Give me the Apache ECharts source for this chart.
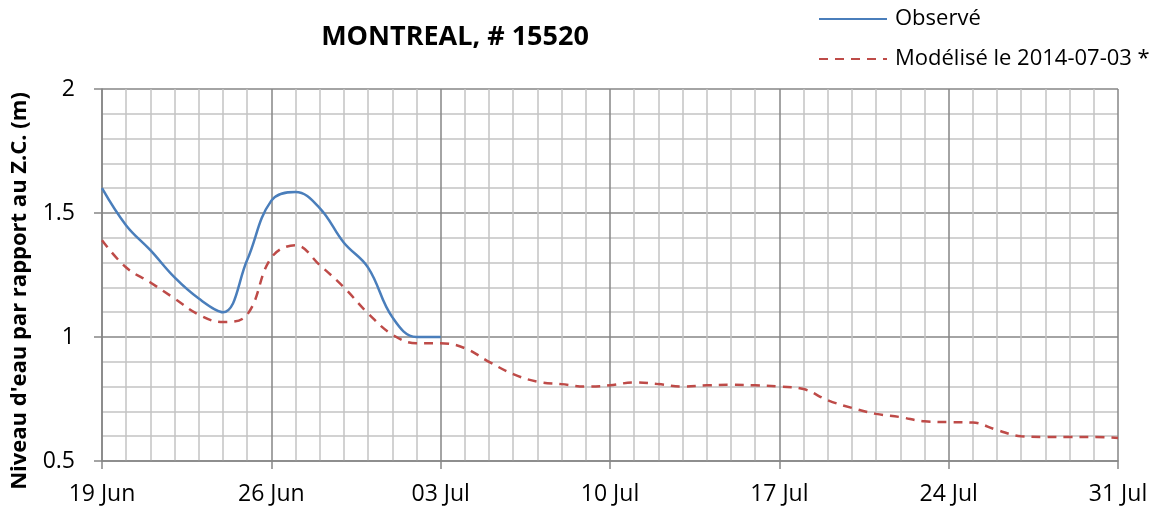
<!DOCTYPE html>
<html>
<head>
<meta charset="utf-8">
<script src="https://cdn.jsdelivr.net/npm/echarts@6/dist/echarts.min.js"></script>
<style>
html,body{margin:0;padding:0;background:#fff;}
#chart{width:1152px;height:511px;}
</style>
</head>
<body>
<div id="chart"></div>
<script>
// Days since 19 Jun
const tickLabels = ['19 Jun','26 Jun','03 Jul','10 Jul','17 Jul','24 Jul','31 Jul'];
const observed = [1.60,1.45,1.35,1.24,1.155,1.10,1.31,1.55,1.585,1.52,1.38,1.28,1.08,1.00,1.00];
const modeled = [1.39,1.28,1.22,1.155,1.09,1.06,1.09,1.32,1.37,1.29,1.20,1.095,1.01,0.975,0.975,
  0.955,0.90,0.85,0.82,0.81,0.80,0.805,0.817,0.81,0.80,0.805,0.807,0.805,0.80,0.79,
  0.745,0.714,0.69,0.677,0.66,0.657,0.655,0.625,0.60,0.597,0.597,0.597,0.593];
const seriesNames = ['Observé','Modélisé le 2014-07-03 *'];
const titleText = 'MONTREAL, # 15520';
const yAxisName = "Niveau d'eau par rapport au Z.C. (m)";

const FONT = 'Open Sans';
const chart = echarts.init(document.getElementById('chart'), null, {renderer:'canvas'});
chart.setOption({
  animation:false,
  backgroundColor:'#fff',
  title:{text:titleText,left:450,top:19,textAlign:'center',
    textStyle:{fontFamily:FONT,fontWeight:'bold',fontSize:27,color:'#000'}},
  legend:{orient:'vertical',left:813,top:3,itemWidth:68,itemHeight:14,itemGap:18,
    itemStyle:{opacity:0},
    textStyle:{fontFamily:FONT,fontSize:22,color:'#000',padding:[0,0,0,3]},
    data:seriesNames},
  grid:{left:102,right:34,top:89,bottom:50,containLabel:false,outerBoundsMode:'none'},
  xAxis:{type:'value',min:0,max:42,interval:7,
    axisLine:{show:true,lineStyle:{color:'#868686',width:1.5}},
    axisTick:{show:true,length:8,lineStyle:{color:'#868686',width:1.5}},
    axisLabel:{fontFamily:FONT,fontSize:23,color:'#000',margin:22,
      formatter:v=>tickLabels[Math.round(v/7)]},
    splitLine:{show:true,lineStyle:{color:'#868686',width:1.5}},
    minorTick:{show:false,splitNumber:7},
    minorSplitLine:{show:true,lineStyle:{color:'#c3c3c3',width:1.5}}},
  yAxis:{type:'value',min:0.5,max:2,interval:0.5,
    name:yAxisName,nameLocation:'middle',nameGap:71,
    nameTextStyle:{fontFamily:FONT,fontWeight:'bold',fontSize:22,color:'#000',padding:[0,32,0,0]},
    axisLine:{show:true,lineStyle:{color:'#868686',width:1.5}},
    axisTick:{show:true,length:8,lineStyle:{color:'#868686',width:1.5}},
    axisLabel:{fontFamily:FONT,fontSize:23,color:'#000',margin:27},
    splitLine:{show:true,lineStyle:{color:'#868686',width:1.5}},
    minorTick:{show:false,splitNumber:5},
    minorSplitLine:{show:true,lineStyle:{color:'#c3c3c3',width:1.5}}},
  series:[
    {name:seriesNames[0],type:'line',smooth:0.4,symbol:'none',
      data:observed.map((v,i)=>[i,v]),
      lineStyle:{color:'#4a7ebb',width:2.5},itemStyle:{color:'#4a7ebb'},z:3},
    {name:seriesNames[1],type:'line',smooth:0.4,symbol:'none',
      data:modeled.map((v,i)=>[i,v]),
      lineStyle:{color:'#be4b48',width:2.5,type:[9,7]},itemStyle:{color:'#be4b48'},z:2}
  ]
});
</script>
</body>
</html>
